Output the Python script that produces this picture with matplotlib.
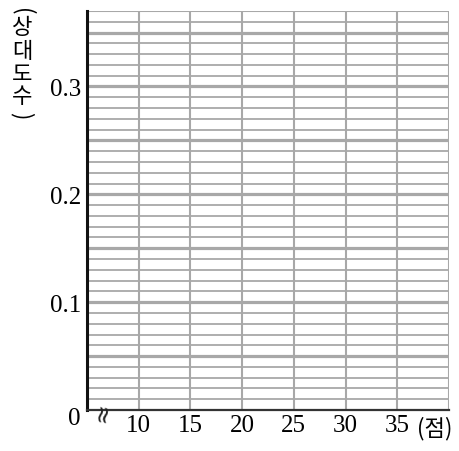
import matplotlib
matplotlib.use("Agg")
import matplotlib.pyplot as plt

# Data / labels
x_min, x_max = 5, 40
y_min, y_max = 0, 0.37
x_ticks = [10, 15, 20, 25, 30, 35]
x_tick_labels = ["10", "15", "20", "25", "30", "35"]
y_ticks = [0.1, 0.2, 0.3]
y_tick_labels = ["0.1", "0.2", "0.3"]
v_grid = [10, 15, 20, 25, 30, 35, 40]
h_grid_minor = [round(0.01 * i, 2) for i in range(1, 38) if i % 5 != 0]
h_grid_major = [0.05, 0.10, 0.15, 0.20, 0.25, 0.30, 0.35]
y_label_chars = ["(", "상", "대", "도", "수", ")"]
x_unit = "(점)"

serif = ["Liberation Serif", "DejaVu Serif"]
kr = ["Noto Sans CJK KR", "DejaVu Sans"]

fig = plt.figure(figsize=(4.6, 4.52), dpi=100)
ax = fig.add_axes([87 / 460, 41 / 452, (449 - 87) / 460, (411 - 12) / 452])
ax.set_xlim(x_min, x_max)
ax.set_ylim(y_min, y_max)

grid_c = "#a8a8a8"
for y in h_grid_minor:
    ax.axhline(y, color=grid_c, lw=1.3, zorder=1)
for y in h_grid_major:
    ax.axhline(y, color=grid_c, lw=2.3, zorder=1)
for x in v_grid:
    ax.axvline(x, color=grid_c, lw=1.5, zorder=1)

for s in ["top", "right"]:
    ax.spines[s].set_visible(False)
ax.axhline(y_max, color=grid_c, lw=1.5, zorder=1)
ax.spines["left"].set_color("#111111")
ax.spines["left"].set_linewidth(2.2)
ax.spines["bottom"].set_color("#333333")
ax.spines["bottom"].set_linewidth(1.6)

ax.set_xticks(x_ticks)
ax.set_xticklabels(x_tick_labels, fontfamily=serif, fontsize=18)
ax.set_yticks(y_ticks)
ax.set_yticklabels(y_tick_labels, fontfamily=serif, fontsize=18)
ax.tick_params(length=0)
ax.tick_params(axis="x", pad=3)
ax.tick_params(axis="y", pad=4)

# origin label
fig.text(74 / 460, 1 - 419 / 452, "0", ha="center", va="center",
         fontfamily=serif, fontsize=18)

# break mark on x axis
ax.text(0.043, -0.003, "≈", transform=ax.transAxes, ha="center", va="center",
        rotation=80, fontsize=17, fontfamily=["DejaVu Sans"], color="#222222",
        zorder=5)

# x unit
fig.text(435 / 460, 1 - 429 / 452, x_unit, ha="center", va="center",
         fontfamily=kr, fontsize=16)

# vertical y label
xl = 22 / 460
y_pos = [12, 28, 51, 74, 97, 116]
for ch, yp in zip(y_label_chars, y_pos):
    rot = -90 if ch in "()" else 0
    fig.text(xl, 1 - yp / 452, ch, ha="center", va="center", rotation=rot,
             rotation_mode="anchor", fontfamily=kr, fontsize=16)

fig.savefig("out.png", dpi=100)
